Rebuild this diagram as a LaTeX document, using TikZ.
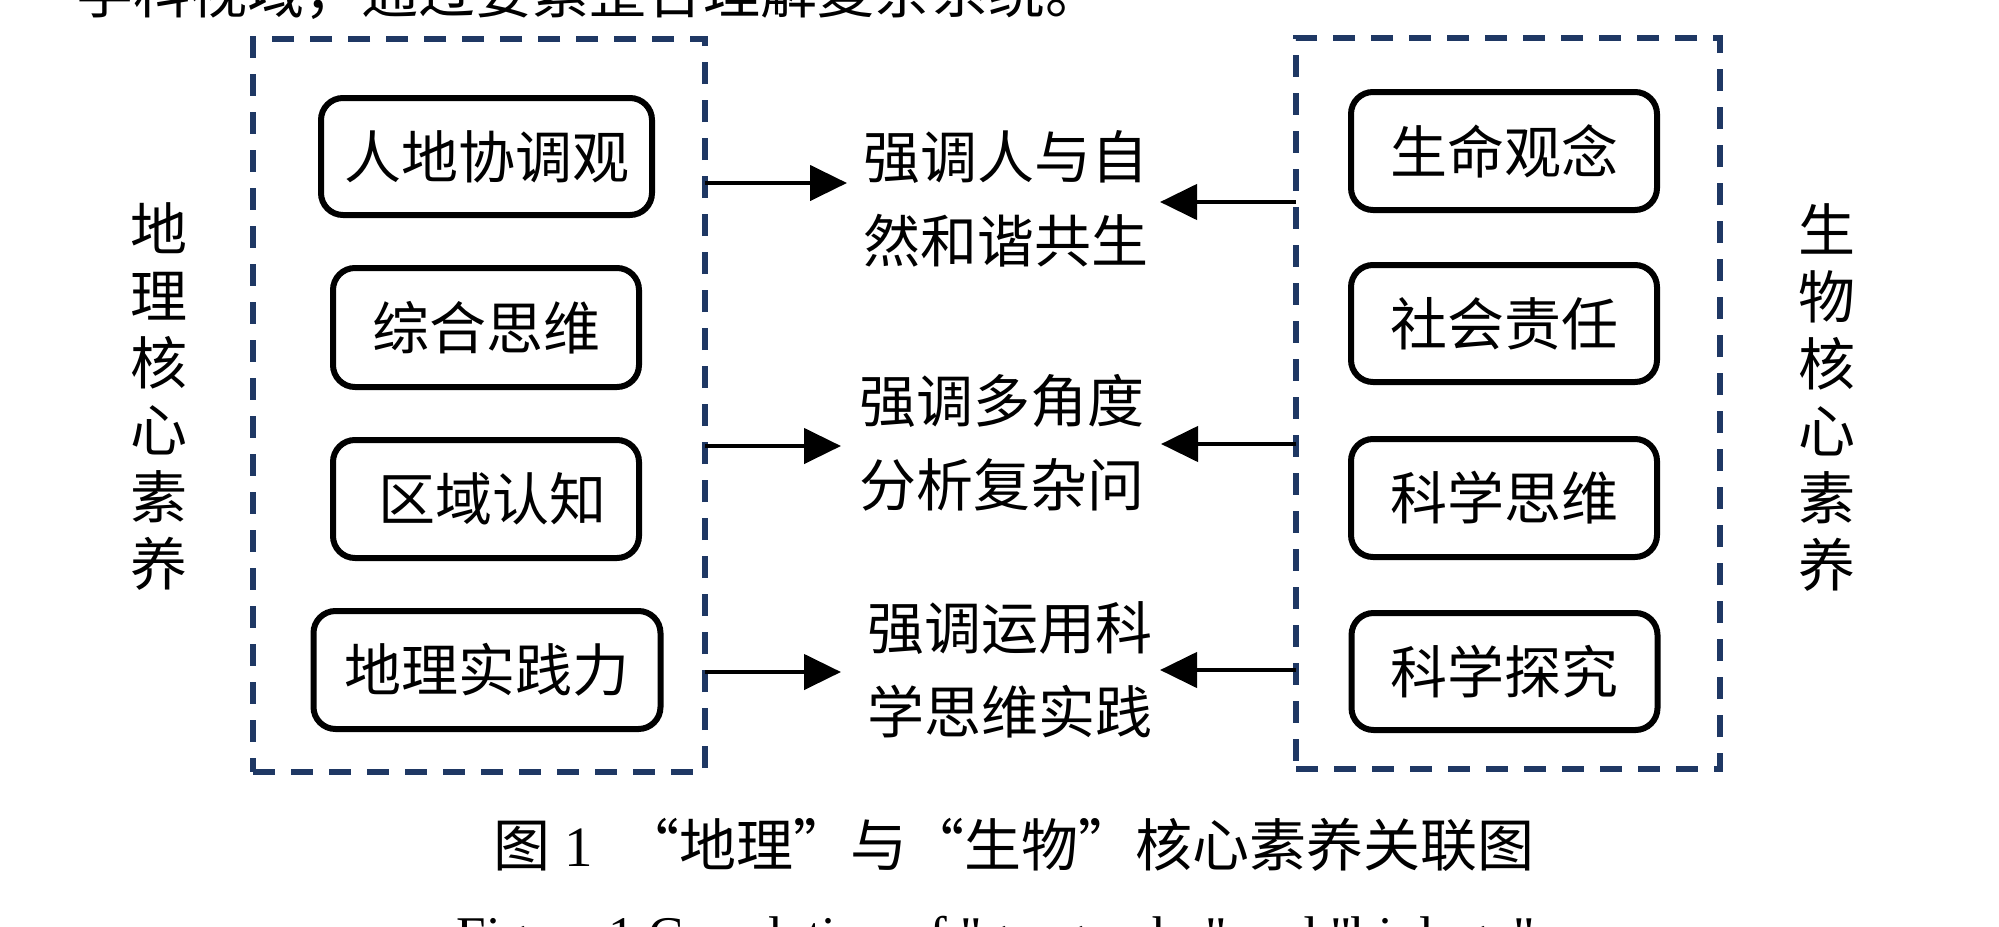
\documentclass[tikz,border=0pt]{standalone}
\usepackage{fontspec}
\setmainfont{Liberation Serif}
\newfontfamily\cjk{Noto Sans CJK SC}
\usetikzlibrary{arrows.meta}
\definecolor{navy}{RGB}{31,56,100}
\newcommand\strq{\XeTeXglyph\XeTeXcharglyph"22\relax}
\begin{document}
\begin{tikzpicture}[x=1pt,y=-1pt,
  dbox/.style={draw=navy, line width=5.5pt, dash pattern=on 22pt off 16pt, inner sep=0pt, outer sep=0pt},
  item/.style={draw=black, line width=6pt, rounded corners=22pt, inner sep=0pt, outer sep=0pt, font=\cjk\fontsize{57pt}{67pt}\selectfont},
  mid/.style={align=center, inner sep=0pt, font=\cjk\fontsize{57pt}{84pt}\selectfont},
  vlab/.style={align=center, inner sep=0pt, font=\cjk\fontsize{57pt}{67pt}\selectfont},
  conn/.style={line width=4.5pt, -{Triangle[length=37pt,width=35pt]}},
]
\useasboundingbox[fill=white] (0,0) rectangle (1999,926);

% cropped text line at the top
\node[anchor=base west, inner sep=0pt, font=\cjk\fontsize{57pt}{67pt}\selectfont] (toptext) at (76,13) {学科视域，通过要素整合理解复杂系统。};

% dashed group frames
\node[dbox, minimum width=452pt, minimum height=733pt] (geo) at (479,405.5) {};
\node[dbox, minimum width=424pt, minimum height=731pt] (bio) at (1508,403.5) {};

% geography items
\node[item, minimum width=331pt, minimum height=117pt] (g1) at (486.5,156.5) {人地协调观};
\node[item, minimum width=306pt, minimum height=119pt] (g2) at (486,327.5) {综合思维};
\node[item, minimum width=306pt, minimum height=118pt] (g3) at (486,499) {\hspace{12pt}区域认知};
\node[item, minimum width=347pt, minimum height=118pt] (g4) at (487,670) {\raisebox{-10pt}{地理实践力}};

% biology items
\node[item, minimum width=306pt, minimum height=118pt] (b1) at (1504,151) {生命观念};
\node[item, minimum width=306pt, minimum height=117pt] (b2) at (1504,323.5) {社会责任};
\node[item, minimum width=306pt, minimum height=118pt] (b3) at (1504,498) {科学思维};
\node[item, minimum width=306pt, minimum height=117pt] (b4) at (1504.5,671.5) {科学探究};

% vertical labels
\node[vlab] (gl) at (159,396.5) {地\\理\\核\\心\\素\\养};
\node[vlab] (bl) at (1827,397.5) {生\\物\\核\\心\\素\\养};

% middle texts
\node[mid] (m1) at (1006,199) {强调人与自\\然和谐共生};
\node[mid] (m2) at (1002,443) {强调多角度\\分析复杂问};
\node[mid] (m3) at (1010,670) {强调运用科\\学思维实践};

% arrows
\coordinate (t1) at (847,183);
\coordinate (t2) at (841,446);
\coordinate (t3) at (841,672);
\coordinate (u1) at (1160,202);
\coordinate (u2) at (1161,444);
\coordinate (u3) at (1160,670);
\draw[conn] (geo.east |- t1) -- (t1);
\draw[conn] (geo.east |- t2) -- (t2);
\draw[conn] (geo.east |- t3) -- (t3);
\draw[conn] (bio.west |- u1) -- (u1);
\draw[conn] (bio.west |- u2) -- (u2);
\draw[conn] (bio.west |- u3) -- (u3);

% captions
\node[inner sep=0pt, font=\fontsize{57pt}{67pt}\selectfont] (cap) at (1014,845) {{\cjk 图} 1\hspace{30pt}{\cjk “地理”与“生物”核心素养关联图}};
\node[inner sep=0pt, anchor=base, font=\fontsize{53pt}{60pt}\selectfont] (eng) at (996,953) {Figure 1 Correlation of \strq geography\strq{} and \strq biology\strq};
\end{tikzpicture}
\end{document}
